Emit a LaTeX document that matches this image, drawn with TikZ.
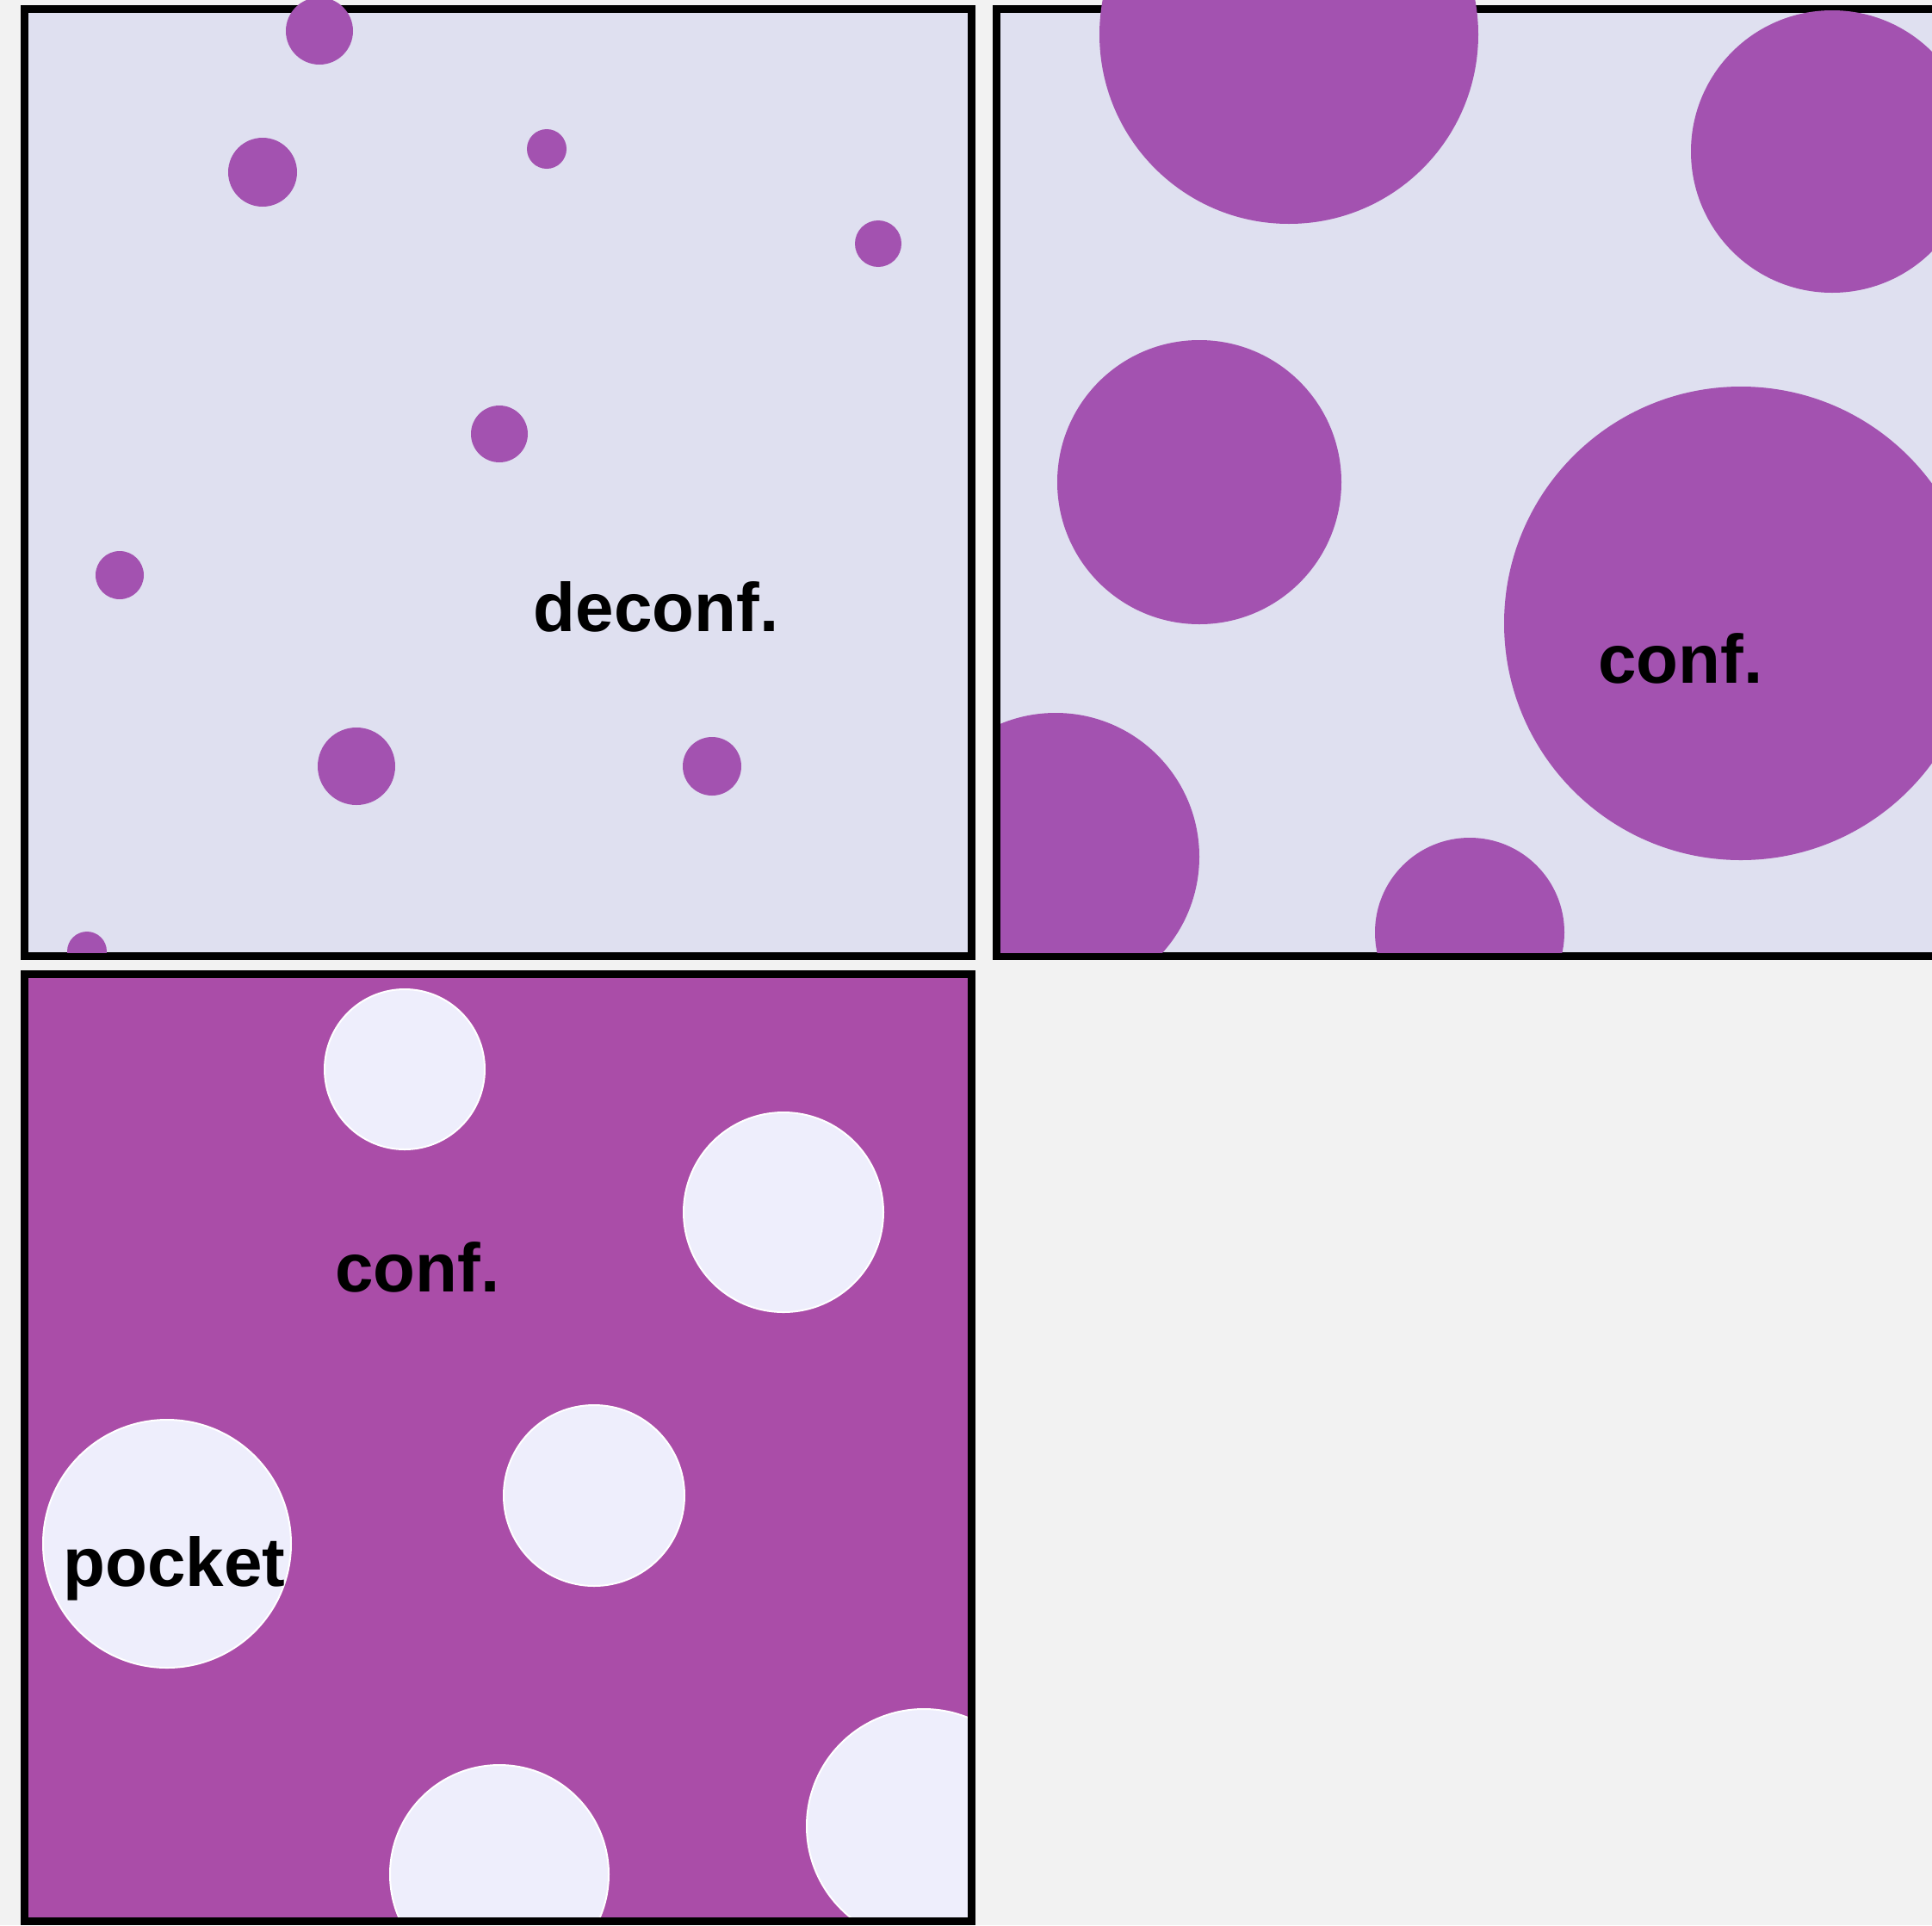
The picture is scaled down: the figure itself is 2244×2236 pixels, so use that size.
\documentclass[tikz,border=0pt]{standalone}
\usepackage{fontspec}
\setmainfont{Liberation Sans}
\definecolor{bgc}{HTML}{F2F2F2}
\definecolor{lav}{HTML}{DFE0F0}
\definecolor{dotc}{HTML}{A352B0}
\definecolor{confc}{HTML}{AA4DA8}
\definecolor{holec}{HTML}{EEEEFC}
\begin{document}
\begin{tikzpicture}[x=1pt,y=-1pt,
  panelborder/.style={line width=9pt, draw=black},
  dot/.style={fill=dotc},
  hole/.style={fill=holec, draw=white, line width=2pt},
  lbl/.style={font=\fontsize{80}{96}\selectfont\bfseries, inner sep=0pt, anchor=base, text=black}]
\useasboundingbox (0,0) rectangle (2244,2236);
\fill[bgc] (0,0) rectangle (2244,2236);
% ---------- panel 1: deconfined ----------
\fill[lav] (28.5,10.5) rectangle (1128.5,1110.5);
\draw[panelborder] (28.5,10.5) rectangle (1128.5,1110.5);
\begin{scope}
  \clip (33,0) rectangle (1124,1106);
  \fill[dot] (371,36) circle[radius=39pt];
  \fill[dot] (305,200) circle[radius=40pt];
  \fill[dot] (635,173) circle[radius=23pt];
  \fill[dot] (1020,283) circle[radius=27pt];
  \fill[dot] (580,504) circle[radius=33pt];
  \fill[dot] (139,668) circle[radius=28pt];
  \fill[dot] (414,890) circle[radius=45pt];
  \fill[dot] (827,890) circle[radius=34pt];
  \fill[dot] (101,1105) circle[radius=23pt];
\end{scope}
\node[lbl] (deconf) at (762,733) {deconf.};
% ---------- panel 2: confined bubbles ----------
\fill[lav] (1157.5,10.5) rectangle (2257.5,1110.5);
\draw[panelborder] (1157.5,10.5) rectangle (2257.5,1110.5);
\begin{scope}
  \clip (1162,0) rectangle (2244,1106);
  \fill[dot] (1497,40) circle[radius=220pt];
  \fill[dot] (2128,176) circle[radius=164pt];
  \fill[dot] (1393,560) circle[radius=165pt];
  \fill[dot] (2022,724) circle[radius=275pt];
  \fill[dot] (1226,995) circle[radius=167pt];
  \fill[dot] (1707,1083) circle[radius=110pt];
\end{scope}
\node[lbl] (conftop) at (1952,793) {conf.};
% ---------- panel 3: confined with pockets ----------
\fill[confc] (28.5,1131.5) rectangle (1128.5,2231.5);
\begin{scope}
  \clip (33,1136) rectangle (1124,2227);
  \fill[hole] (470,1242) circle[radius=93pt];
  \fill[hole] (910,1408) circle[radius=116pt];
  \fill[hole] (690,1737) circle[radius=105pt];
  \fill[hole] (194,1793) circle[radius=144pt];
  \fill[hole] (580,2177) circle[radius=127pt];
  \fill[hole] (1073,2121) circle[radius=136pt];
\end{scope}
\draw[panelborder] (28.5,1131.5) rectangle (1128.5,2231.5);
\node[lbl] (confbot) at (485,1500) {conf.};
\node[lbl] (pocket) at (202.5,1842) {pocket};
\end{tikzpicture}
\end{document}
